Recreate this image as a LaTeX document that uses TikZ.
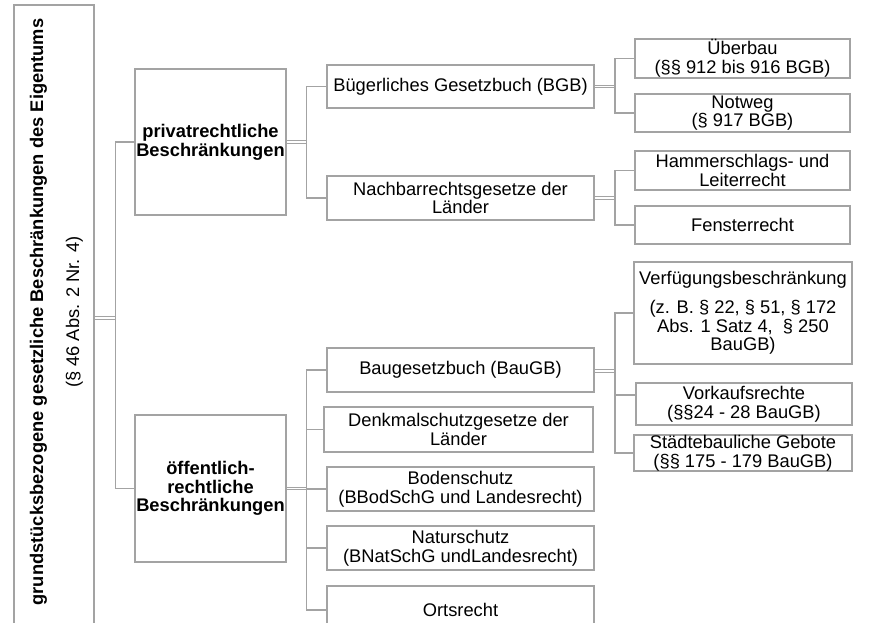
\documentclass[tikz,border=0pt]{standalone}
\usepackage{fontspec}
\setmainfont{Liberation Sans}
\definecolor{linegray}{HTML}{A3A3A3}
\definecolor{txt}{HTML}{000000}
\begin{document}
\begin{tikzpicture}[x=1pt,y=-1pt,
  box/.style={draw=linegray, line width=1.6pt, inner sep=0pt, align=center,
    text=txt, font=\fontsize{18.3}{18.7}\selectfont},
  boldbox/.style={box, font=\bfseries\fontsize{18.3}{18.7}\selectfont},
  sz/.style 2 args={minimum width=#1pt, minimum height=#2pt},
  conn/.style={draw=linegray, line width=1.5pt},
  dbl/.style={draw=linegray, line width=1pt, double=white, double distance=1.6pt},
  vtext/.style={rotate=90, anchor=base, inner sep=0pt, text=txt}
]
\useasboundingbox (0,0) rectangle (895,623);
\clip (0,0) rectangle (895,623);
\fill[white] (0,0) rectangle (895,623);

% root box
\node[box, sz={80}{626}] (L) at (54,318) {};
\node[vtext, font=\bfseries\fontsize{18.3}{18.7}\selectfont] (Lt) at (43,312)
  {grundstücksbezogene gesetzliche Beschränkungen des Eigentums};
\node[vtext, font=\fontsize{18.3}{18.7}\selectfont] (Ls) at (79,312)
  {(§ 46 Abs. 2 Nr. 4)};

% level 1
\node[boldbox, sz={151}{146}] (P) at (210.5,142) {privatrechtliche\\Beschränkungen};
\node[boldbox, sz={151}{147}] (OE) at (210.5,488.5) {öffentlich-\\rechtliche\\Beschränkungen};

% level 2 (private)
\node[box, sz={267}{43}] (BGB) at (460.5,86.5) {Bügerliches Gesetzbuch (BGB)};
\node[box, sz={267}{44}] (NB) at (460.5,198) {Nachbarrechtsgesetze der\\Länder};

% level 2 (public)
\node[box, sz={267}{44}] (Bau) at (460.5,370) {Baugesetzbuch (BauGB)};
\node[box, sz={269}{45}] (Denk) at (458.5,429.5) {Denkmalschutzgesetze der\\Länder};
\node[box, sz={267}{44}] (Boden) at (460.5,489) {Bodenschutz\\(BBodSchG und Landesrecht)};
\node[box, sz={267}{44}] (Natur) at (460.5,548) {Naturschutz\\(BNatSchG undLandesrecht)};
\node[box, sz={267}{48}] (Orts) at (460.5,610) {Ortsrecht};

% level 3
\node[box, sz={215}{39}] (Ueb) at (742.5,58.5) {Überbau\\(§§ 912 bis 916 BGB)};
\node[box, sz={215}{38}] (Not) at (742.5,113) {Notweg\\(§ 917 BGB)};
\node[box, sz={215}{39}] (Ham) at (742.5,170.5) {Hammerschlags- und\\Leiterrecht};
\node[box, sz={215}{38}] (Fen) at (742.5,225) {Fensterrecht};
\node[box, sz={218}{102}] (Verf) at (743,313)
  {Verfügungsbeschränkung\\[10pt](z. B. § 22, § 51, § 172\\Abs. 1 Satz 4,~ § 250\\BauGB)};
\node[box, sz={216}{42}] (VK) at (744,404) {Vorkaufsrechte\\(§§24 - 28 BauGB)};
\node[box, sz={218}{36}] (St) at (743,453) {Städtebauliche Gebote\\(§§ 175 - 179 BauGB)};

% junctions
\coordinate (tj) at (115.7,318);
\coordinate (pj) at (306.7,142);
\coordinate (oj) at (306.7,488.5);
\coordinate (bj) at (615,86.5);
\coordinate (nj) at (615,198);
\coordinate (uj) at (615,371);

% root -> level 1
\draw[dbl] (L.east) -- (tj);
\draw[conn] (P.west) -| (tj) |- (OE.west);

% private -> level 2
\draw[dbl] (P.east) -- (pj);
\draw[conn] (BGB.west) -| (pj) |- (NB.west);

% public -> level 2
\draw[dbl] (OE.east) -- (oj);
\draw[conn] (Bau.west) -| (oj) |- (Orts.west);
\draw[conn] (Denk.west -| oj) -- (Denk.west);
\draw[conn] (Boden.west -| oj) -- (Boden.west);
\draw[conn] (Natur.west -| oj) -- (Natur.west);

% BGB -> level 3
\draw[dbl] (BGB.east) -- (bj);
\draw[conn] (Ueb.west) -| (bj) |- (Not.west);

% Nachbar -> level 3
\draw[dbl] (NB.east) -- (nj);
\draw[conn] (Ham.west) -| (nj) |- (Fen.west);

% BauGB -> level 3
\draw[dbl] (Bau.east |- uj) -- (uj);
\draw[conn] (Verf.west) -| (uj) |- (St.west);
\draw[conn] ([yshift=9pt]VK.west -| uj) -- ([yshift=9pt]VK.west);
\end{tikzpicture}
\end{document}
